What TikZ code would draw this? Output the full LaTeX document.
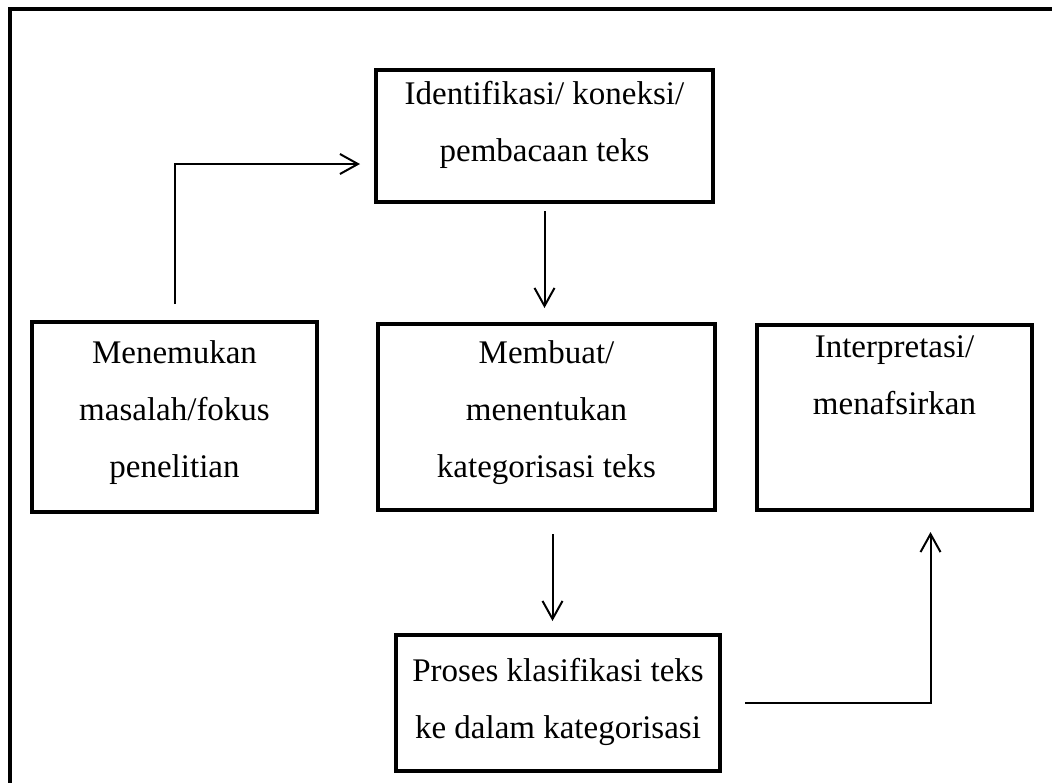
\documentclass[tikz,border=0pt]{standalone}
\usepackage{fontspec}
\setmainfont{Liberation Serif}
\usetikzlibrary{arrows.meta}

% text block inside a box: width, height, top padding, lines
\newcommand{\boxtext}[4]{\parbox[c][#2][t]{#1}{\centering\vspace*{#3}#4}}

\begin{document}
\begin{tikzpicture}[
  x=0.5pt, y=-0.5pt,
  box/.style={draw, line width=2pt, inner sep=0pt, rectangle,
    font=\fontsize{16.5}{28.5}\selectfont},
  arr/.style={line width=1pt, -{Straight Barb[length=9pt,width=10pt]}}
]
\useasboundingbox (0,0) rectangle (1052,783);

% outer frame
\draw[line width=1.8pt] (1052,9) -- (10,9) -- (10,783);

\node[box] (ident) at (544.5,136)
  {\boxtext{168.5pt}{66pt}{5.5pt}{Identifikasi/ koneksi/\\pembacaan teks}};
\node[box] (temu) at (174.5,417)
  {\boxtext{142.5pt}{95pt}{9.5pt}{Menemukan\\masalah/fokus\\penelitian}};
\node[box] (buat) at (546.5,417)
  {\boxtext{168.5pt}{93pt}{8.5pt}{Membuat/\\menentukan\\kategorisasi teks}};
\node[box] (tafsir) at (894.5,417.5)
  {\boxtext{137.5pt}{92.5pt}{5.5pt}{Interpretasi/\\menafsirkan}};
\node[box] (proses) at (558,703)
  {\boxtext{162pt}{68pt}{11.5pt}{Proses klasifikasi teks\\ke dalam kategorisasi}};

% connectors
\draw[arr] ([yshift=8pt]temu.north) |- ([xshift=-7pt,yshift=-14pt]ident.west);
\draw[arr] ([yshift=-3.5pt]ident.south) -- ([yshift=7pt]ident.south |- buat.north);
\draw[arr] ([xshift=3pt,yshift=-11pt]buat.south) -- ([xshift=3pt,yshift=6pt]buat.south |- proses.north);
\draw[arr] ([xshift=11.5pt]proses.east) -| ([xshift=18pt,yshift=-10pt]tafsir.south);

\end{tikzpicture}
\end{document}
